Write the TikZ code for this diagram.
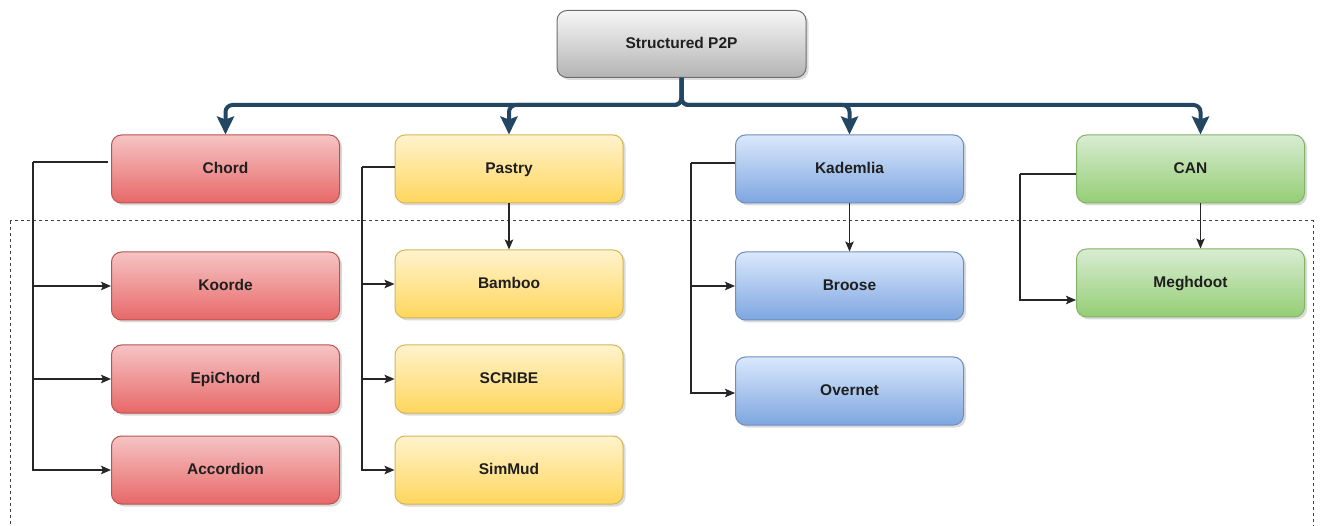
\documentclass[tikz,border=0pt]{standalone}
\usepackage{fontspec}
\setmainfont{Liberation Sans}
\usetikzlibrary{arrows.meta,shadows}

\definecolor{busblue}{RGB}{35,70,98}
\definecolor{redtop}{RGB}{246,196,196}
\definecolor{redbot}{RGB}{232,104,104}
\definecolor{redline}{RGB}{184,84,80}
\definecolor{yeltop}{RGB}{255,243,205}
\definecolor{yelbot}{RGB}{255,214,92}
\definecolor{yelline}{RGB}{214,182,86}
\definecolor{blutop}{RGB}{218,232,252}
\definecolor{blubot}{RGB}{126,166,224}
\definecolor{bluline}{RGB}{108,142,191}
\definecolor{grntop}{RGB}{216,236,210}
\definecolor{grnbot}{RGB}{148,206,116}
\definecolor{grnline}{RGB}{130,179,102}
\definecolor{grytop}{RGB}{246,246,246}
\definecolor{grybot}{RGB}{180,180,180}
\definecolor{gryline}{RGB}{110,110,110}

\tikzset{
  box/.style={draw, line width=1pt, rounded corners=10pt,
    minimum width=228pt, minimum height=68pt, inner sep=0pt,
    text height=11.5pt, text depth=3pt,
    font=\fontsize{15.5}{18}\selectfont\bfseries, text=black!88,
    drop shadow={opacity=0.28, shadow xshift=2.5pt, shadow yshift=-2.5pt}},
  redbox/.style={box, draw=redline, top color=redtop, bottom color=redbot},
  yelbox/.style={box, draw=yelline, top color=yeltop, bottom color=yelbot},
  blubox/.style={box, draw=bluline, top color=blutop, bottom color=blubot},
  grnbox/.style={box, draw=grnline, top color=grntop, bottom color=grnbot},
  grybox/.style={box, draw=gryline, top color=grytop, bottom color=grybot,
    minimum width=249pt, minimum height=67pt},
  bus/.style={draw=busblue, line width=4pt, rounded corners=7pt,
    -{Stealth[length=18pt,width=17pt,inset=3pt]}},
  link/.style={draw=black!85, line width=1.2pt,
    -{Stealth[length=10pt,width=8.5pt,inset=2pt]}},
  plain/.style={draw=black!85, line width=1.2pt},
  frame/.style={draw=black!75, line width=1pt, dash pattern=on 3pt off 3pt}
}

\begin{document}
\begin{tikzpicture}[x=1pt,y=-1pt]
\useasboundingbox[fill=white] (0,0) rectangle (1325,526);
\clip (0,0) rectangle (1325,526);

% dashed frame round the derived overlays
\draw[frame] (10,221) rectangle (1313,560);

% root and the four base overlays
\node[grybox] (root) at (681.5,44) {Structured P2P};
\node[redbox] (chord) at (225.5,169) {Chord};
\node[yelbox] (pastry) at (509,169) {Pastry};
\node[blubox] (kad) at (849.5,169) {Kademlia};
\node[grnbox] (can) at (1190.5,169) {CAN};

% derived overlays
\node[redbox] (koorde) at (225.5,286) {Koorde};
\node[redbox] (epichord) at (225.5,379) {EpiChord};
\node[redbox] (accordion) at (225.5,470) {Accordion};
\node[yelbox] (bamboo) at (509,284) {Bamboo};
\node[yelbox] (scribe) at (509,379) {SCRIBE};
\node[yelbox] (simmud) at (509,470) {SimMud};
\node[blubox] (broose) at (849.5,286) {Broose};
\node[blubox] (overnet) at (849.5,391) {Overnet};
\node[grnbox] (meghdoot) at (1190.5,283) {Meghdoot};

% branching bus from the root
\coordinate (hub) at (681.5,105);
\draw[bus] (root.south) |- (chord.north |- hub) -- (chord.north);
\draw[bus] (root.south) |- (pastry.north |- hub) -- (pastry.north);
\draw[bus] (root.south) |- (kad.north |- hub) -- (kad.north);
\draw[bus] (root.south) |- ([xshift=10pt]can.north |- hub) -- ([xshift=10pt]can.north);

% Chord family
\coordinate (cbus) at (33,162);
\draw[plain] ([yshift=7pt,xshift=-3pt]chord.west) -- (cbus);
\draw[link] (cbus) |- (accordion.west);
\draw[link] (cbus |- koorde.west) -- (koorde.west);
\draw[link] (cbus |- epichord.west) -- (epichord.west);

% Pastry family
\coordinate (pbus) at (362,167);
\draw[plain] ([yshift=2pt]pastry.west) -- (pbus);
\draw[link] (pbus) |- (simmud.west);
\draw[link] (pbus |- bamboo.west) -- (bamboo.west);
\draw[link] (pbus |- scribe.west) -- (scribe.west);
\draw[link] (pastry.south) -- (bamboo.north);

% Kademlia family
\coordinate (kbus) at (691,163);
\draw[plain] ([yshift=6pt]kad.west) -- (kbus);
\draw[link] (kbus) |- ([yshift=-2pt]overnet.west);
\draw[link] (kbus |- broose.west) -- (broose.west);
\draw[link] (kad.south) -- (broose.north);

% CAN family
\coordinate (nbus) at (1020,174);
\draw[plain] ([yshift=-5pt]can.west) -- (nbus);
\draw[link] (nbus) |- ([yshift=-17pt]meghdoot.west);
\draw[link] ([xshift=10pt]can.south) -- ([xshift=10pt]meghdoot.north);
\end{tikzpicture}
\end{document}
